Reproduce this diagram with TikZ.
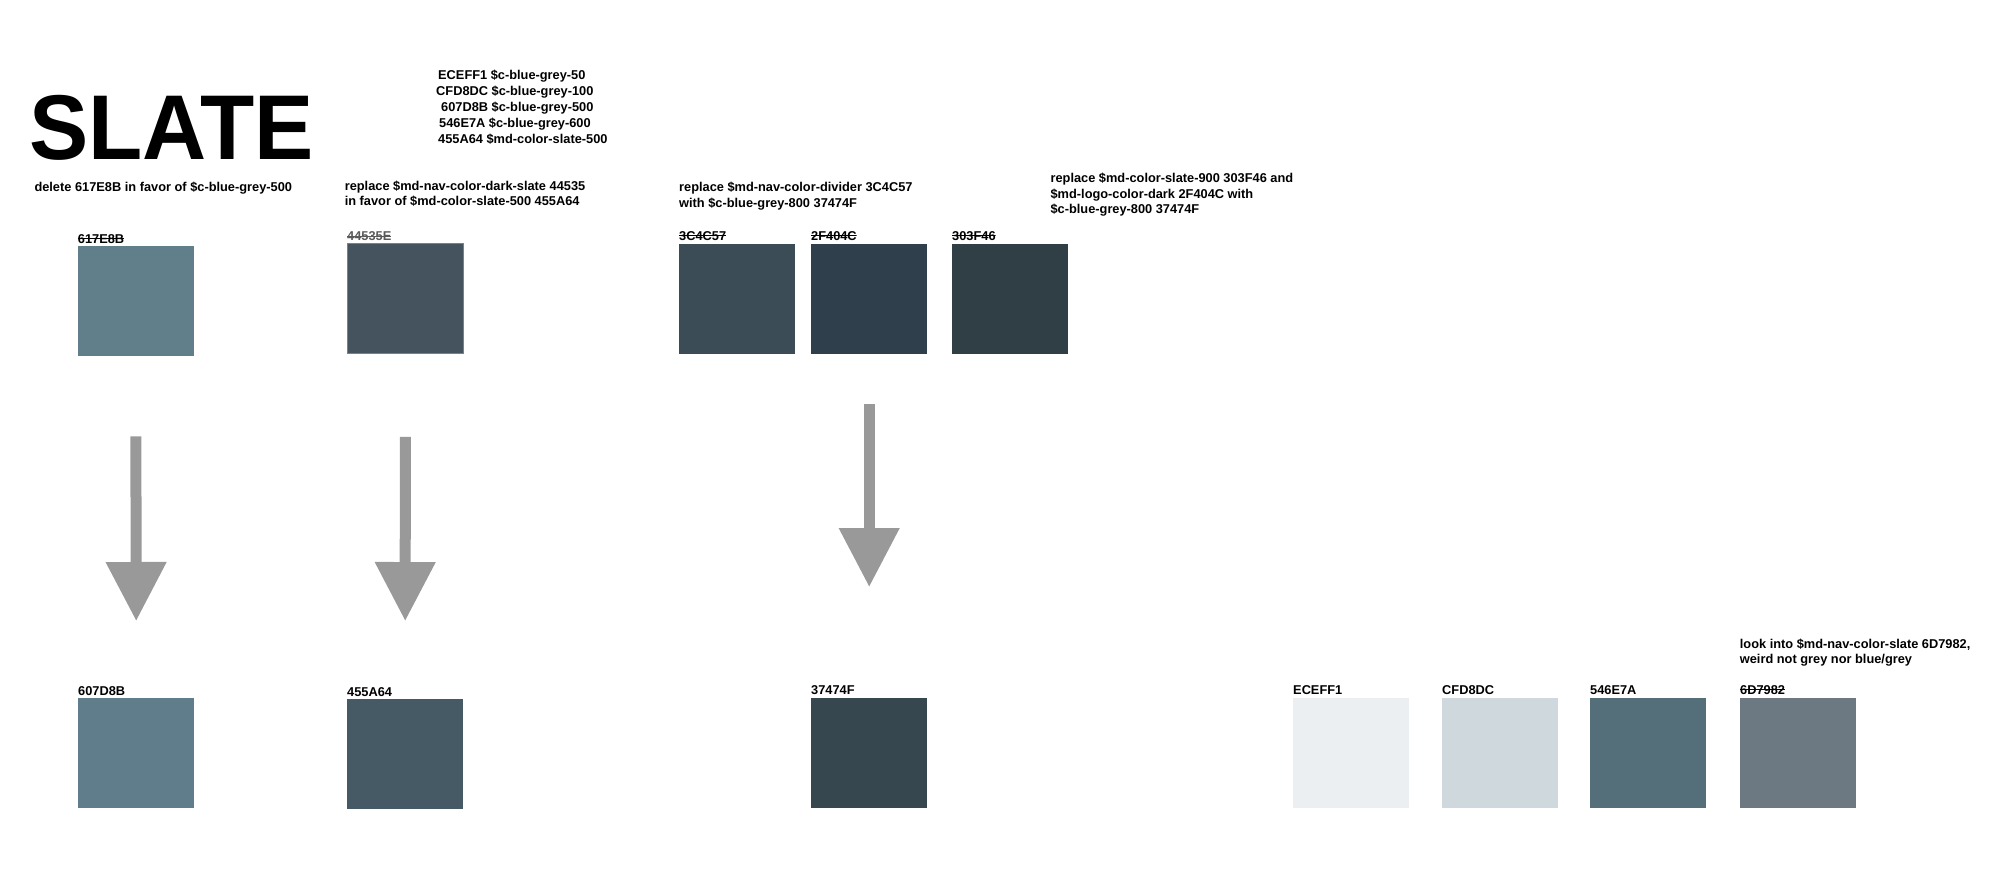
\documentclass[tikz,border=0pt]{standalone}
\usepackage{fontspec}
\setmainfont{Liberation Sans}
\usetikzlibrary{arrows.meta,positioning}

\definecolor{arrowgrey}{HTML}{999999}
\definecolor{oldgrey}{HTML}{5A5A5A}
\definecolor{c617E8B}{HTML}{617E8B}
\definecolor{c44535E}{HTML}{44535E}
\definecolor{c3C4C57}{HTML}{3C4C57}
\definecolor{c2F404C}{HTML}{2F404C}
\definecolor{c303F46}{HTML}{303F46}
\definecolor{c607D8B}{HTML}{607D8B}
\definecolor{c455A64}{HTML}{455A64}
\definecolor{c37474F}{HTML}{37474F}
\definecolor{cECEFF1}{HTML}{ECEFF1}
\definecolor{cCFD8DC}{HTML}{CFD8DC}
\definecolor{c546E7A}{HTML}{546E7A}
\definecolor{c6D7982}{HTML}{6D7982}

\tikzset{
	swatch/.style={inner sep=0pt, minimum width=116pt, minimum height=110pt, anchor=north west},
	hexlbl/.style={inner sep=0pt, anchor=base west, font=\bfseries\fontsize{12.8}{15.4}\selectfont},
	note/.style={inner sep=0pt, anchor=north west, align=left, font=\bfseries\fontsize{12.8}{15.4}\selectfont},
	struck/.style={path picture={\draw[#1, line width=1.2pt] (path picture bounding box.west) -- (path picture bounding box.east);}},
	struck/.default=black,
	bigarrow/.style={draw=arrowgrey, line width=11pt, -{Triangle[length=59pt, width=58pt]}}
}

\begin{document}
\begin{tikzpicture}[x=1pt, y=-1pt]
		\useasboundingbox (0,0) rectangle (1994,872);

		% title and the list of kept colours
		\node[inner sep=0pt, anchor=base west, font=\bfseries\fontsize{92}{92}\selectfont] (title) at (29,160) {\scalebox{0.965}[1]{SLATE}};
		\node[hexlbl] (keep1) at (438,79.5) {ECEFF1 \$c-blue-grey-50};
		\node[hexlbl] (keep2) at (436,95.5) {CFD8DC \$c-blue-grey-100};
		\node[hexlbl] (keep3) at (441,111.5) {607D8B \$c-blue-grey-500};
		\node[hexlbl] (keep4) at (439,127.5) {546E7A \$c-blue-grey-600};
		\node[hexlbl] (keep5) at (438,143) {455A64 \$md-color-slate-500};

		% notes
		\node[hexlbl] (note1) at (34.3,191.5) {delete 617E8B in favor of \$c-blue-grey-500};
		\node[note] (note2) at (344.6,180.5) {replace \$md-nav-color-dark-slate 44535\\in favor of \$md-color-slate-500 455A64};
		\node[note] (note3) at (679,182) {replace \$md-nav-color-divider 3C4C57\\with \$c-blue-grey-800 37474F};
		\node[note] (note4) at (1050.4,173) {replace \$md-color-slate-900 303F46 and\\\$md-logo-color-dark 2F404C with\\\$c-blue-grey-800 37474F};
		\node[note] (note5) at (1739.7,638.5) {look into \$md-nav-color-slate 6D7982,\\weird not grey nor blue/grey};

		% old colours
		\node[swatch, fill=c617E8B] (s1) at (77.7,246) {};
		\node[swatch, fill=c44535E, draw=gray, line width=0.6pt] (s2) at (347,243.3) {};
		\node[swatch, fill=c3C4C57] (s3) at (679,244) {};
		\node[swatch, fill=c2F404C] (s4) at (811,244) {};
		\node[swatch, fill=c303F46] (s5) at (952,244) {};

		\node[hexlbl, struck] (l1) at ([yshift=3pt]s1.north west) {617E8B};
		\node[hexlbl, struck=oldgrey, text=oldgrey] (l2) at ([yshift=2.6pt]s2.north west) {44535E};
		\node[hexlbl, struck] (l3) at ([yshift=4pt]s3.north west) {3C4C57};
		\node[hexlbl, struck] (l4) at ([yshift=4pt]s4.north west) {2F404C};
		\node[hexlbl, struck] (l5) at ([yshift=4pt]s5.north west) {303F46};

		% new colours
		\node[swatch, fill=c607D8B] (b1) at (78,698) {};
		\node[swatch, fill=c455A64] (b2) at (347,699) {};
		\node[swatch, fill=c37474F] (b3) at (811,698) {};
		\node[swatch, fill=cECEFF1] (b4) at (1293,698) {};
		\node[swatch, fill=cCFD8DC] (b5) at (1442,698) {};
		\node[swatch, fill=c546E7A] (b6) at (1590,698) {};
		\node[swatch, fill=c6D7982] (b7) at (1740,698) {};

		\node[hexlbl] (m1) at ([yshift=3pt]b1.north west) {607D8B};
		\node[hexlbl] (m2) at ([yshift=3pt]b2.north west) {455A64};
		\node[hexlbl] (m3) at ([yshift=4pt]b3.north west) {37474F};
		\node[hexlbl] (m4) at ([yshift=4pt]b4.north west) {ECEFF1};
		\node[hexlbl] (m5) at ([yshift=4pt]b5.north west) {CFD8DC};
		\node[hexlbl] (m6) at ([yshift=4pt]b6.north west) {546E7A};
		\node[hexlbl, struck] (m7) at ([yshift=4pt]b7.north west) {6D7982};

		% replacements
		\draw[bigarrow] ([yshift=-80pt]s1.south) -- ([yshift=77pt]b1.north);
		\draw[bigarrow] ([yshift=-83pt]s2.south) -- ([yshift=78pt]b2.north);
		\draw[bigarrow] ([yshift=-50pt]s4.south) -- ([yshift=111pt]b3.north);
	\end{tikzpicture}
\end{document}
